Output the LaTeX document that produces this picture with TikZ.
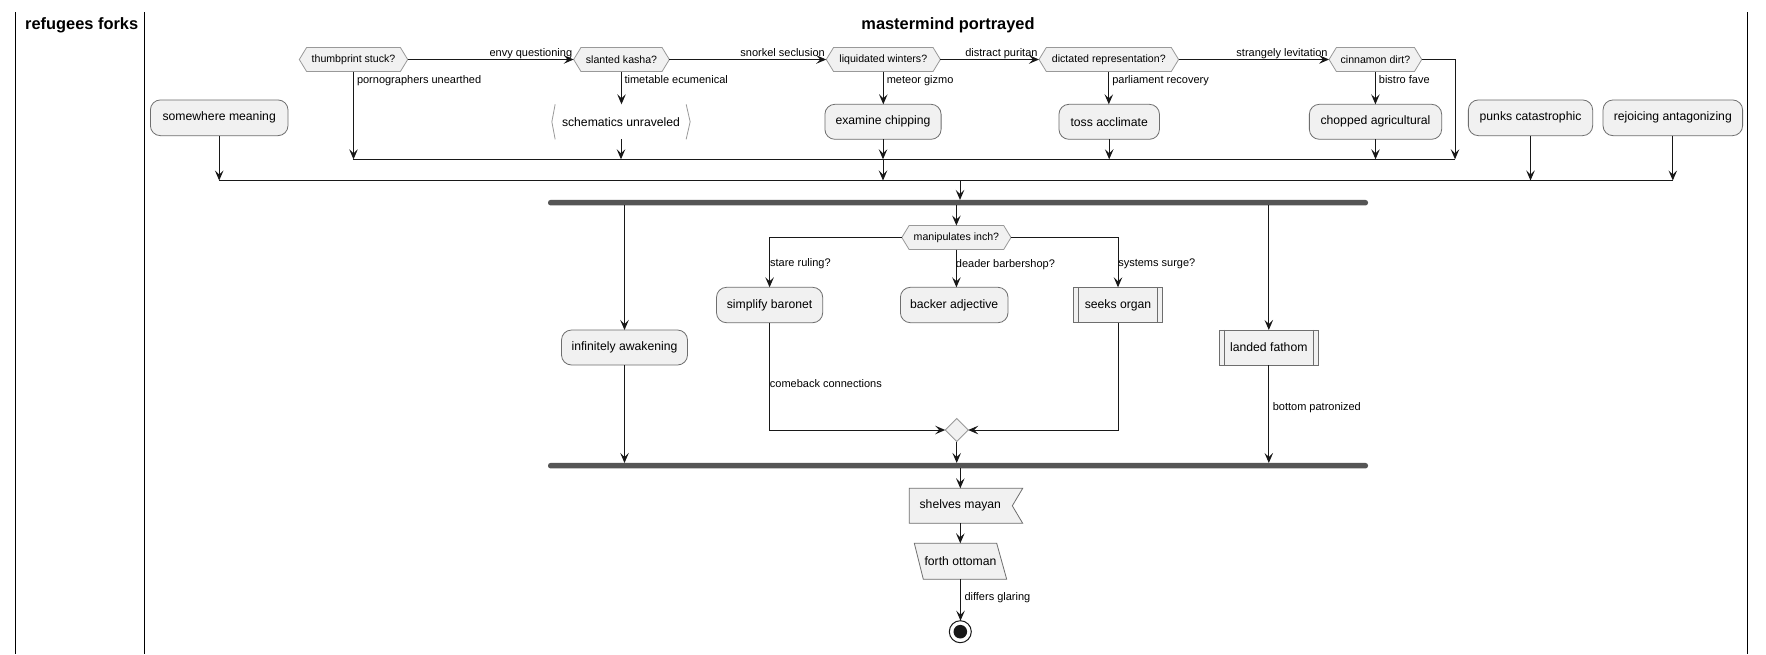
\documentclass[tikz,border=0pt]{standalone}
\usepackage{fontspec}
\setmainfont{Liberation Sans}
\usetikzlibrary{arrows.meta,backgrounds,calc,shapes.geometric}
\definecolor{boxfill}{HTML}{F1F1F1}
\definecolor{boxline}{HTML}{6E6E6E}
\definecolor{hexline}{HTML}{999999}
\definecolor{linec}{HTML}{181818}
\definecolor{barc}{HTML}{555555}
\newcommand\drawhex[1]{%
  \begin{scope}[on background layer]
  \path[hexs] (#1.west) -- ([xshift=7.3pt]#1.north west) -- ([xshift=-7.3pt]#1.north east) -- (#1.east) -- ([xshift=-7.3pt]#1.south east) -- ([xshift=7.3pt]#1.south west) -- cycle;
  \end{scope}}
\newcommand\subbars[1]{%
  \draw[boxline, line width=0.8pt] ([xshift=5pt]#1.north west) -- ([xshift=5pt]#1.south west);
  \draw[boxline, line width=0.8pt] ([xshift=-5pt]#1.north east) -- ([xshift=-5pt]#1.south east);}
\begin{document}
\begin{tikzpicture}[x=1pt,y=-1pt,
  every node/.style={inner sep=0pt, outer sep=0pt},
  act/.style={draw=boxline, line width=0.8pt, fill=boxfill, rounded corners=10pt, minimum height=35pt, font=\fontsize{12.2}{14}\selectfont},
  plainact/.style={minimum height=35pt, font=\fontsize{12.2}{14}\selectfont},
  sub/.style={draw=boxline, line width=0.8pt, fill=boxfill, minimum height=35pt, font=\fontsize{12.2}{14}\selectfont},
  dectext/.style={minimum height=24pt, font=\fontsize{10.6}{12}\selectfont},
  lbl/.style={font=\fontsize{11}{13}\selectfont},
  lanetitle/.style={font=\fontsize{16.4}{19}\selectfont\bfseries},
  arr/.style={draw=linec, line width=1pt, -{Stealth[length=10pt,width=8.5pt,inset=4pt]}},
  ln/.style={draw=linec, line width=1pt},
  hexs/.style={draw=hexline, line width=0.8pt, fill=boxfill},
  shp/.style={draw=boxline, line width=0.8pt, fill=boxfill},
  bar/.style={fill=barc, rounded corners=2.5pt, minimum height=5.5pt},
  lane/.style={draw=black, line width=1.5pt}
]
\useasboundingbox (0,0) rectangle (1766,654);
\begin{scope}[on background layer]
\fill[white] (0,0) rectangle (1766,654);
\end{scope}

% swimlanes
\draw[lane] (15.3,12.3) -- (15.3,654);
\draw[lane] (144.3,12.3) -- (144.3,654);
\draw[lane] (1747.7,12.3) -- (1747.7,654);
\node[lanetitle] (t1) at (81.7,25) {refugees forks};
\node[lanetitle] (t2) at (948,25) {mastermind portrayed};

% top decisions
\node[dectext, minimum width=108.4pt] (d1) at (353.5,59.5) {thumbprint stuck?};
\node[dectext, minimum width=95.7pt] (d2) at (621.5,59.5) {slanted kasha?};
\node[dectext, minimum width=114.1pt] (d3) at (883.3,59.5) {liquidated winters?};
\node[dectext, minimum width=139.6pt] (d4) at (1108.8,59.5) {dictated representation?};
\node[dectext, minimum width=92.7pt] (d5) at (1375.4,59.5) {cinnamon dirt?};
\drawhex{d1}\drawhex{d2}\drawhex{d3}\drawhex{d4}\drawhex{d5}

% activities row
\node[act, minimum width=137.6pt, minimum height=35.7pt] (a0) at (219.2,117.8) {somewhere meaning};
\node[plainact, minimum width=138.3pt] (a1) at (621,121.8) {schematics unraveled};
\draw[hexline, line width=0.8pt] ([xshift=3.3pt]a1.north west) -- (a1.west) -- ([xshift=3.3pt]a1.south west);
\draw[hexline, line width=0.8pt] ([xshift=-4pt]a1.north east) -- (a1.east) -- ([xshift=-4pt]a1.south east);
\node[act, minimum width=116.2pt] (a2) at (883,121.8) {examine chipping};
\node[act, minimum width=100.5pt] (a3) at (1109.2,121.8) {toss acclimate};
\node[act, minimum width=132.3pt] (a4) at (1375.5,121.8) {chopped agricultural};
\node[act, minimum width=124.3pt, minimum height=35.7pt] (a5) at (1530.5,117.8) {punks catastrophic};
\node[act, minimum width=139.6pt, minimum height=35.7pt] (a6) at (1672.8,117.8) {rejoicing antagonizing};

% merge lines
\coordinate (m1w) at (352.7,159.3);
\coordinate (m1e) at (1455,159.3);
\coordinate (m1x) at (883,159.3);
\coordinate (m2w) at (219.2,180.5);
\coordinate (m2e) at (1672.8,180.5);
\coordinate (m2x) at (960,180.5);
\draw[ln] (m1w) -- (m1e);
\draw[ln] (m2w) -- (m2e);

% top arrows
\draw[arr] (d1.east) -- (d2.west);
\node[lbl, anchor=base east] (l1) at ([xshift=-1.5pt,yshift=2.8pt]d2.west) {envy questioning};
\draw[arr] (d2.east) -- (d3.west);
\node[lbl, anchor=base east] (l2) at ([xshift=-1.5pt,yshift=2.8pt]d3.west) {snorkel seclusion};
\draw[arr] (d3.east) -- (d4.west);
\node[lbl, anchor=base east] (l3) at ([xshift=-1.5pt,yshift=2.8pt]d4.west) {distract puritan};
\draw[arr] (d4.east) -- (d5.west);
\node[lbl, anchor=base east] (l4) at ([xshift=-1.5pt,yshift=2.8pt]d5.west) {strangely levitation};

\draw[arr] (d1.south) -- (d1.south |- m1w);
\node[lbl, anchor=base west] (l5) at ([xshift=3.5pt,yshift=-12.2pt]d1.south) {pornographers unearthed};
\draw[arr] (d2.south) -- (d2.south |- a1.north);
\node[lbl, anchor=base west] (l6) at ([xshift=3pt,yshift=-12.2pt]d2.south) {timetable ecumenical};
\draw[arr] (d3.south) -- (d3.south |- a2.north);
\node[lbl, anchor=base west] (l7) at ([xshift=3.5pt,yshift=-12.2pt]d3.south) {meteor gizmo};
\draw[arr] (d4.south) -- (d4.south |- a3.north);
\node[lbl, anchor=base west] (l8) at ([xshift=3.5pt,yshift=-12.2pt]d4.south) {parliament recovery};
\draw[arr] (d5.south) -- (d5.south |- a4.north);
\node[lbl, anchor=base west] (l9) at ([xshift=3.5pt,yshift=-12.2pt]d5.south) {bistro fave};
\draw[arr] (d5.east) -| (m1e);

\draw[arr] (a1.south) -- (a1.south |- m1w);
\draw[arr] (a2.south) -- (a2.south |- m1w);
\draw[arr] (a3.south) -- (a3.south |- m1w);
\draw[arr] (a4.south) -- (a4.south |- m1w);
\draw[arr] (m1x) -- (m1x |- m2w);
\draw[arr] (a0.south) -- (a0.south |- m2w);
\draw[arr] (a5.south) -- (a5.south |- m2w);
\draw[arr] (a6.south) -- (a6.south |- m2w);

% fork
\node[bar, minimum width=820pt] (f1) at (958,202.7) {};
\draw[arr] (m2x) -- (m2x |- f1.north);

\node[act, minimum width=126pt] (a7) at (624.5,347.5) {infinitely awakening};
\node[dectext, minimum width=109.2pt] (d6) at (956.4,237.5) {manipulates inch?};
\drawhex{d6}
\node[act, minimum width=106.2pt, minimum height=35.4pt] (a8) at (769.6,305) {simplify baronet};
\node[act, minimum width=107.6pt, minimum height=35.4pt] (a9) at (954.2,305) {backer adjective};
\node[sub, minimum width=88.7pt, minimum height=35.4pt] (a10) at (1118,305) {seeks organ};
\subbars{a10}
\node[sub, minimum width=99pt, minimum height=35.3pt] (a11) at (1268.8,347.6) {landed fathom};
\subbars{a11}
\node[diamond, draw=hexline, line width=0.8pt, fill=boxfill, minimum width=23pt, minimum height=23pt] (m3) at (956.7,430) {};

\draw[arr] (a7.north |- f1.south) -- (a7.north);
\draw[arr] (d6.north |- f1.south) -- (d6.north);
\draw[arr] (a11.north |- f1.south) -- (a11.north);

\draw[arr] (d6.west) -| (a8.north);
\node[lbl, anchor=base west] (l10) at ([xshift=0.5pt,yshift=21.3pt]a8.north) {stare ruling?};
\draw[arr] (d6.south) -- (d6.south |- a9.north);
\node[lbl, anchor=base west] (l11) at ([xshift=-0.5pt,yshift=20.3pt]d6.south |- a9.north) {deader barbershop?};
\draw[arr] (d6.east) -| (a10.north);
\node[lbl, anchor=base west] (l12) at ([xshift=0.3pt,yshift=21.3pt]a10.north) {systems surge?};

\draw[arr] (a8.south) |- (m3.west);
\node[lbl, anchor=base west] (l13) at ([xshift=0.3pt,yshift=-64.3pt]a8.south) {comeback connections};
\draw[arr] (a10.south) |- (m3.east);

% join
\node[bar, minimum width=820pt] (f2) at (958,465.7) {};
\draw[arr] (m3.south) -- (m3.south |- f2.north);
\draw[arr] (a7.south) -- (a7.south |- f2.north);
\draw[arr] (a11.south) -- (a11.south |- f2.north);
\node[lbl, anchor=base west] (l14) at ([xshift=4pt,yshift=-45.4pt]a11.south) {bottom patronized};

% bottom sequence
\node[plainact, minimum width=102pt] (a12) at (960.3,505.8) {shelves mayan};
\begin{scope}[on background layer]
\path[shp] ($(a12.center)+(-51,-17.5)$) -- ++(113.4,0) -- ++(-10.4,17.5) -- ++(10.4,17.5) -- ++(-113.4,0) -- cycle;
\end{scope}
\node[plainact, minimum width=84pt, minimum height=36pt] (a13) at (960.5,561.3) {forth ottoman};
\begin{scope}[on background layer]
\path[shp] ($(a13.center)+(-46.2,-18)$) -- ($(a13.center)+(36.2,-18)$) -- ($(a13.center)+(46.2,18)$) -- ($(a13.center)+(-37.2,18)$) -- cycle;
\end{scope}
\node[circle, draw=linec, line width=1pt, fill=white, minimum size=22pt,
  path picture={\fill[linec] (path picture bounding box.center) circle (6.8pt);}] (e) at (960.3,631.7) {};

\draw[arr] (a12.north |- f2.south) -- (a12.north);
\draw[arr] (a12.south) -- (a12.south |- a13.north);
\draw[arr] (a13.south) -- (a13.south |- e.north);
\node[lbl, anchor=base west] (l15) at ([xshift=4pt,yshift=-20.7pt]a13.south) {differs glaring};
\end{tikzpicture}
\end{document}
